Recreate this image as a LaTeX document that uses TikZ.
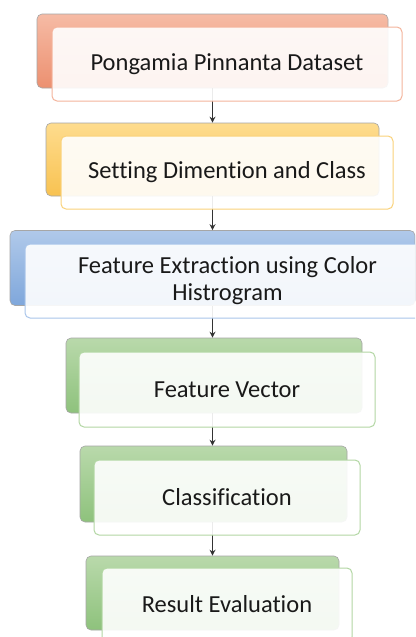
\documentclass[tikz,border=0pt]{standalone}
\usepackage{fontspec}
\setmainfont{Carlito}[Ligatures={NoCommon}]
\usetikzlibrary{arrows.meta}
\definecolor{orT}{HTML}{F6BBA5}\definecolor{orB}{HTML}{EC9070}\definecolor{orL}{HTML}{F4B49C}
\definecolor{yeT}{HTML}{FEDC8E}\definecolor{yeB}{HTML}{F8C251}\definecolor{yeL}{HTML}{FAD27A}
\definecolor{blT}{HTML}{B0C9EA}\definecolor{blB}{HTML}{7FA7DB}\definecolor{blL}{HTML}{A9C5EA}
\definecolor{grT}{HTML}{B9D9AB}\definecolor{grB}{HTML}{8EC27C}\definecolor{grL}{HTML}{B3D7A4}
\tikzset{
  back/.style={draw=black!35, line width=0.6pt, rounded corners=5pt, inner sep=0pt},
  front/.style={draw, line width=1pt, rounded corners=5pt, fill=white, fill opacity=0.9, text opacity=1, inner sep=0pt, font=\fontsize{24.5}{27}\selectfont, align=center, text=black!90},
  arr/.style={draw=black!80, line width=0.9pt, -{Stealth[length=6pt,width=6pt]}}
}
\begin{document}
\begin{tikzpicture}[x=1pt,y=-1pt]
\useasboundingbox (0,0) rectangle (415,637);
\clip (0,0) rectangle (415,637);
\fill[white] (0,0) rectangle (415,637);
% back boxes
\node[back, top color=orT, bottom color=orB, minimum width=351pt, minimum height=74pt] (b1) at (212.5,51) {};
\node[back, top color=yeT, bottom color=yeB, minimum width=333pt, minimum height=73pt] (b2) at (212.5,159.5) {};
\node[back, top color=blT, bottom color=blB, minimum width=405pt, minimum height=75pt] (b3) at (212.5,268) {};
\node[back, top color=grT, bottom color=grB, minimum width=296pt, minimum height=75pt] (b4) at (214,375.5) {};
\node[back, top color=grT, bottom color=grB, minimum width=267pt, minimum height=76pt] (b5) at (213.5,484) {};
\node[back, top color=grT, bottom color=grB, minimum width=253pt, minimum height=74pt] (b6) at (212.5,593) {};
% connectors
\draw[arr] (b1.south) -- (b1.south |- b2.north);
\draw[arr] (b2.south) -- (b2.south |- b3.north);
\draw[arr] (b3.south) -- (b3.south |- b4.north);
\draw[arr] (b4.south -| b3.south) -- (b3.south |- b5.north);
\draw[arr] (b5.south -| b3.south) -- (b3.south |- b6.north);
% front boxes
\node[front, draw=orL, minimum width=350pt, minimum height=74pt] (f1) at (227,64) {Pongamia Pinnanta Dataset};
\node[front, draw=yeL, minimum width=332pt, minimum height=73pt] (f2) at (227,172.5) {Setting Dimention and Class};
\node[front, draw=blL, minimum width=405pt, minimum height=74pt] (f3) at (227.5,281) {Feature Extraction using Color\\Histrogram};
\node[front, draw=grL, minimum width=296pt, minimum height=75pt] (f4) at (227,389.5) {Feature Vector};
\node[front, draw=grL, minimum width=266pt, minimum height=75pt] (f5) at (227,497.5) {Classification};
\node[front, draw=grL, minimum width=250pt, minimum height=74pt, text depth=0pt] (f6) at (227,605) {\raisebox{2pt}{Result Evaluation}};
\end{tikzpicture}
\end{document}
